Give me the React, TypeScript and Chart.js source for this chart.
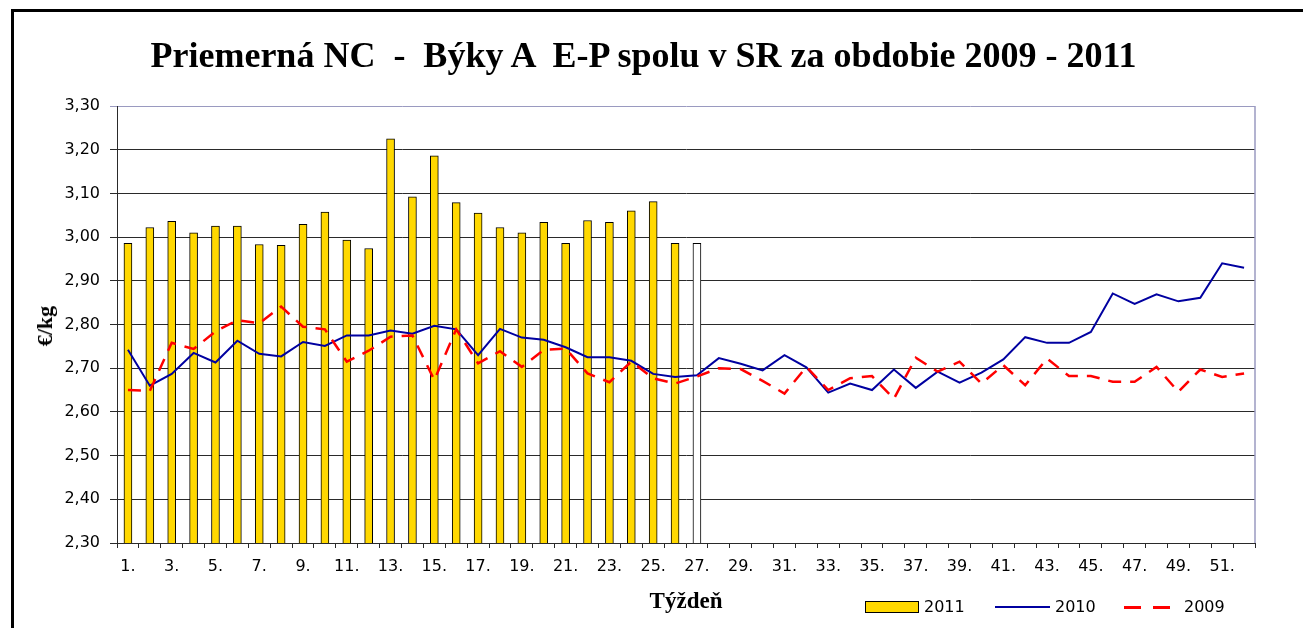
import React, { useEffect, useRef } from "react";
import { Chart, registerables } from "chart.js";

Chart.register(...registerables);

// ---- data ----
const weekLabels = [
  "1.", "2.", "3.", "4.", "5.", "6.", "7.", "8.", "9.", "10.",
  "11.", "12.", "13.", "14.", "15.", "16.", "17.", "18.", "19.", "20.",
  "21.", "22.", "23.", "24.", "25.", "26.", "27.", "28.", "29.", "30.",
  "31.", "32.", "33.", "34.", "35.", "36.", "37.", "38.", "39.", "40.",
  "41.", "42.", "43.", "44.", "45.", "46.", "47.", "48.", "49.", "50.",
  "51.", "52.",
];

const prices2011 = [
  2.986, 3.022, 3.036, 3.010, 3.025, 3.025, 2.983, 2.981, 3.029, 3.057,
  2.993, 2.974, 3.225, 3.092, 3.186, 3.079, 3.055, 3.022, 3.010, 3.034,
  2.986, 3.038, 3.034, 3.060, 3.081, 2.986, 2.986,
];

const prices2010 = [
  2.742, 2.660, 2.687, 2.735, 2.713, 2.763, 2.733, 2.727, 2.760, 2.751,
  2.775, 2.775, 2.786, 2.779, 2.797, 2.789, 2.730, 2.790, 2.770, 2.765,
  2.748, 2.725, 2.725, 2.717, 2.687, 2.680, 2.684, 2.723, 2.710, 2.695,
  2.730, 2.702, 2.644, 2.665, 2.650, 2.697, 2.655, 2.692, 2.667, 2.690,
  2.720, 2.771, 2.758, 2.758, 2.783, 2.871, 2.847, 2.869, 2.853, 2.861,
  2.940, 2.930,
];

const prices2009 = [
  2.650, 2.648, 2.758, 2.744, 2.784, 2.810, 2.803, 2.841, 2.795, 2.789,
  2.715, 2.740, 2.772, 2.775, 2.673, 2.789, 2.711, 2.739, 2.703, 2.742,
  2.745, 2.688, 2.668, 2.715, 2.677, 2.665, 2.681, 2.700, 2.698, 2.671,
  2.642, 2.703, 2.650, 2.677, 2.682, 2.630, 2.724, 2.692, 2.715, 2.665,
  2.707, 2.661, 2.722, 2.682, 2.682, 2.669, 2.669, 2.703, 2.646, 2.697,
  2.680, 2.688,
];

const yMin = 2.3;
const yMax = 3.3;
const yStep = 0.1;
const provisionalWeek = "27."; // last 2011 week drawn unfilled

const seriesNames = ["2011", "2010", "2009"];

// ---- styles ----
const YELLOW = "#FFD800";
const BLUE = "#0000A0";
const RED = "#FF0000";
const FRAME = "#9A9AC0";
const GRID = "#2a2a2a";
const SANS = "'DejaVu Sans', Verdana, sans-serif";
const SERIF = "'Liberation Serif', 'Times New Roman', serif";

const plotFrame = {
  id: "plotFrame",
  afterDraw(chart: any) {
    const { ctx, chartArea } = chart;
    ctx.save();
    ctx.strokeStyle = FRAME;
    ctx.lineWidth = 1.5;
    ctx.beginPath();
    ctx.moveTo(chartArea.right, chartArea.top);
    ctx.lineTo(chartArea.right, chartArea.bottom);
    ctx.stroke();
    ctx.restore();
  },
};

export default function App() {
  const canvasRef = useRef<HTMLCanvasElement | null>(null);

  useEffect(() => {
    if (!canvasRef.current) return;
    const chart = new Chart(canvasRef.current, {
      type: "bar",
      data: {
        labels: weekLabels,
        datasets: [
          {
            type: "bar",
            label: seriesNames[0],
            data: prices2011,
            backgroundColor: (c: any) =>
              weekLabels[c.dataIndex] === provisionalWeek ? "#FFFFFF" : YELLOW,
            borderColor: "#000000",
            borderWidth: 1,
            barThickness: 8,
            order: 3,
          },
          {
            type: "line",
            label: seriesNames[1],
            data: prices2010,
            borderColor: BLUE,
            borderWidth: 2,
            pointRadius: 0,
            tension: 0,
            fill: false,
            order: 2,
          },
          {
            type: "line",
            label: seriesNames[2],
            data: prices2009,
            borderColor: RED,
            borderWidth: 2.5,
            borderDash: [13, 9],
            pointRadius: 0,
            tension: 0,
            fill: false,
            order: 1,
          },
        ] as any,
      },
      options: {
        animation: false,
        responsive: false,
        maintainAspectRatio: false,
        layout: { padding: { left: 0, top: 106, right: 48, bottom: 0 } },
        plugins: {
          legend: { display: false },
          title: { display: false },
          tooltip: { enabled: false },
        },
        scales: {
          x: {
            offset: true,
            grid: {
              offset: true,
              drawOnChartArea: false,
              drawTicks: true,
              tickLength: 5,
              color: GRID,
            },
            border: { color: GRID, width: 1 },
            ticks: {
              autoSkip: false,
              maxRotation: 0,
              minRotation: 0,
              padding: 9,
              color: "#000",
              font: { family: SANS, size: 16 },
              callback: (_v: any, i: number) => (i % 2 === 0 ? weekLabels[i] : ""),
            },
            afterFit: (s: any) => {
              s.height = 85;
            },
          },
          y: {
            min: yMin,
            max: yMax,
            grid: {
              color: (c: any) =>
                c.tick && Math.abs(c.tick.value - yMax) < 1e-6 ? FRAME : GRID,
              lineWidth: 1,
              drawTicks: true,
              tickLength: 7,
            },
            border: { color: GRID, width: 1 },
            ticks: {
              stepSize: yStep,
              padding: 10,
              color: "#000",
              font: { family: SANS, size: 16 },
              callback: (v: any) => Number(v).toFixed(2).replace(".", ","),
            },
            afterFit: (s: any) => {
              s.width = 117;
            },
          },
        },
      },
      plugins: [plotFrame],
    });
    return () => chart.destroy();
  }, []);

  const legendText: React.CSSProperties = {
    position: "absolute",
    top: 599,
    fontFamily: SANS,
    fontSize: 16,
    lineHeight: "16px",
    color: "#000",
    whiteSpace: "pre",
  };

  return (
    <div
      style={{
        position: "absolute",
        left: 0,
        top: 0,
        width: 1303,
        height: 628,
        overflow: "hidden",
        background: "#fff",
      }}
    >
      <div
        style={{
          position: "absolute",
          left: 11,
          top: 9,
          width: 1400,
          height: 800,
          borderLeft: "3px solid #000",
          borderTop: "3px solid #000",
        }}
      />
      <canvas
        ref={canvasRef}
        width={1303}
        height={628}
        style={{ position: "absolute", left: 0, top: 0, width: 1303, height: 628 }}
      />
      <div
        style={{
          position: "absolute",
          left: 0,
          width: 1287,
          top: 37,
          textAlign: "center",
          fontFamily: SERIF,
          fontWeight: "bold",
          fontSize: 36,
          lineHeight: "36px",
          whiteSpace: "pre",
          color: "#000",
        }}
      >
        {"Priemerná NC  -  Býky A  E-P spolu v SR za obdobie 2009 - 2011"}
      </div>
      <div
        style={{
          position: "absolute",
          left: 45,
          top: 326,
          transform: "translate(-50%, -50%) rotate(-90deg)",
          fontFamily: SERIF,
          fontWeight: "bold",
          fontSize: 22,
          lineHeight: "22px",
          whiteSpace: "pre",
          color: "#000",
        }}
      >
        €/kg
      </div>
      <div
        style={{
          position: "absolute",
          left: 686,
          top: 589,
          transform: "translateX(-50%)",
          fontFamily: SERIF,
          fontWeight: "bold",
          fontSize: 23,
          lineHeight: "23px",
          whiteSpace: "pre",
          color: "#000",
        }}
      >
        Týždeň
      </div>
      {/* legend */}
      <div
        style={{
          position: "absolute",
          left: 865,
          top: 601,
          width: 52,
          height: 10,
          background: YELLOW,
          border: "1px solid #000",
        }}
      />
      <div style={{ ...legendText, left: 924 }}>{seriesNames[0]}</div>
      <div
        style={{ position: "absolute", left: 995, top: 606, width: 55, height: 2, background: BLUE }}
      />
      <div style={{ ...legendText, left: 1055 }}>{seriesNames[1]}</div>
      <div
        style={{ position: "absolute", left: 1124, top: 606, width: 17, height: 2.5, background: RED }}
      />
      <div
        style={{ position: "absolute", left: 1153, top: 606, width: 17, height: 2.5, background: RED }}
      />
      <div style={{ ...legendText, left: 1184 }}>{seriesNames[2]}</div>
    </div>
  );
}
